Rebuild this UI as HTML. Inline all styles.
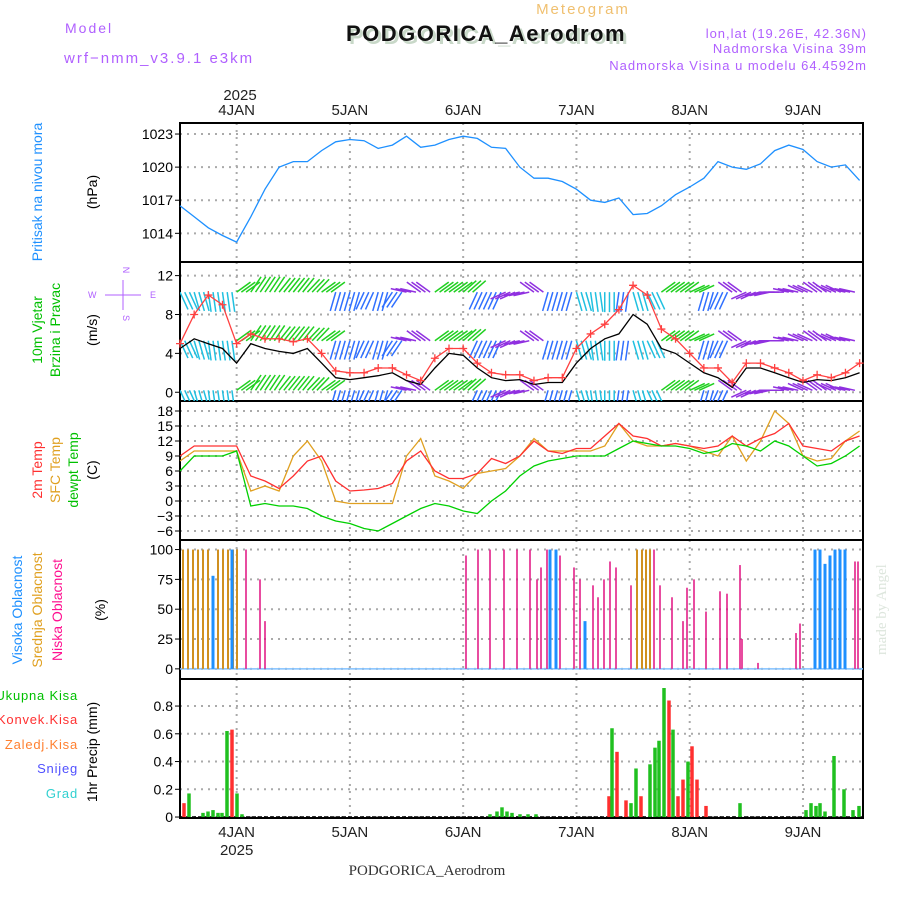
<!DOCTYPE html>
<html><head><meta charset="utf-8"><style>
html,body{margin:0;padding:0;background:#fff;width:900px;height:900px;overflow:hidden}
svg text{font-family:"Liberation Sans",sans-serif}
svg text.serif{font-family:"Liberation Serif",serif}
</style></head><body>
<svg id="c" width="900" height="900" xmlns="http://www.w3.org/2000/svg">
<text x="65" y="33" fill="#b060ff" font-size="14" letter-spacing="2">Model</text>
<text x="64" y="63" fill="#b060ff" font-size="15" letter-spacing="2">wrf−nmm_v3.9.1 e3km</text>
<text x="583" y="14" fill="#f0c070" font-size="15" letter-spacing="2" text-anchor="middle">Meteogram</text>
<text x="489" y="44" fill="#c8d8c8" font-size="22" font-weight="bold" text-anchor="middle" letter-spacing="1.5">PODGORICA_Aerodrom</text>
<text x="486" y="41" fill="#111" font-size="22" font-weight="bold" text-anchor="middle" letter-spacing="1.5">PODGORICA_Aerodrom</text>
<text x="867" y="38" fill="#b060ff" font-size="13" text-anchor="end" letter-spacing="1">lon,lat (19.26E, 42.36N)</text>
<text x="867" y="53" fill="#b060ff" font-size="13" text-anchor="end" letter-spacing="1">Nadmorska Visina 39m</text>
<text x="867" y="70" fill="#b060ff" font-size="13" text-anchor="end" letter-spacing="1">Nadmorska Visina u modelu 64.4592m</text>
<text x="240" y="100" font-size="15" fill="#222" text-anchor="middle">2025</text>
<g id="axes"></g>
<g id="plots"></g>
<text x="427" y="875" font-size="15" fill="#333" text-anchor="middle" class="serif">PODGORICA_Aerodrom</text>
<text x="0" y="0" font-size="15" fill="#dde6dd" transform="translate(886,655) rotate(-90)" class="serif">made by Angel</text>
<g font-size="14">
<text transform="translate(42,192) rotate(-90)" fill="#1e90ff" text-anchor="middle">Pritisak na nivou mora</text>
<text transform="translate(97,192) rotate(-90)" fill="#000" text-anchor="middle">(hPa)</text>
<text transform="translate(42,330) rotate(-90)" fill="#00c000" text-anchor="middle">10m Vjetar</text>
<text transform="translate(60,330) rotate(-90)" fill="#00c000" text-anchor="middle">Brzina i Pravac</text>
<text transform="translate(97,330) rotate(-90)" fill="#000" text-anchor="middle">(m/s)</text>
<text transform="translate(42,470) rotate(-90)" fill="#ff3030" text-anchor="middle">2m Temp</text>
<text transform="translate(60,470) rotate(-90)" fill="#e0a020" text-anchor="middle">SFC Temp</text>
<text transform="translate(78,470) rotate(-90)" fill="#00c000" text-anchor="middle">dewpt Temp</text>
<text transform="translate(97,470) rotate(-90)" fill="#000" text-anchor="middle">(C)</text>
<text transform="translate(22,610) rotate(-90)" fill="#1e90ff" text-anchor="middle">Visoka Oblacnost</text>
<text transform="translate(42,610) rotate(-90)" fill="#e0a020" text-anchor="middle">Srednja Oblacnost</text>
<text transform="translate(62,610) rotate(-90)" fill="#ff1090" text-anchor="middle">Niska Oblacnost</text>
<text transform="translate(105,610) rotate(-90)" fill="#000" text-anchor="middle">(%)</text>
</g>
<g font-size="13">
<text x="78" y="700" fill="#00c000" text-anchor="end" letter-spacing="0.8">Ukupna Kisa</text>
<text x="78" y="724" fill="#ff3030" text-anchor="end" letter-spacing="0.8">Konvek.Kisa</text>
<text x="78" y="749" fill="#ff8030" text-anchor="end" letter-spacing="0.8">Zaledj.Kisa</text>
<text x="78" y="773" fill="#5050ff" text-anchor="end" letter-spacing="0.8">Snijeg</text>
<text x="78" y="798" fill="#30d0d0" text-anchor="end" letter-spacing="0.8">Grad</text>
<text transform="translate(97,752) rotate(-90)" font-size="14" fill="#000" text-anchor="middle">1hr Precip (mm)</text>
</g>
<g font-size="9" fill="#b060ff">
<text x="123" y="270" text-anchor="middle" transform="rotate(90,123,270)">N</text>
<text x="88" y="298">W</text><text x="150" y="298">E</text>
<text x="123" y="318" text-anchor="middle" transform="rotate(90,123,318)">S</text>
<line x1="123" y1="280" x2="123" y2="310" stroke="#b060ff"/><line x1="105" y1="295" x2="141" y2="295" stroke="#b060ff"/>
</g>
</svg>
<script>
const days=['4JAN','5JAN','6JAN','7JAN','8JAN','9JAN'];
const dayVals=[4,5,6,7,8,9];
const t0=3.5, tEnd=9.53;
const pressure=[1016.5,1015.5,1014.5,1013.8,1013.2,1015.5,1018,1020,1020.5,1020.5,1021.5,1022.3,1022.5,1022.4,1021.7,1022,1022.8,1021.8,1022,1022.5,1022.8,1022.6,1021.8,1021.7,1020,1019,1019,1018.7,1018,1017,1016.8,1017.2,1015.7,1015.8,1016.5,1017.5,1018.2,1019,1020.5,1020,1019.8,1020.3,1021.5,1022,1021.6,1020.5,1020,1020.2,1018.8];
const windSpeed=[4.5,5.5,5,4.5,3,5,4.5,4.2,4,4.5,3,1.5,1.3,1.5,1.7,2,1.2,0.8,2.5,4,3.8,2.5,1.5,1.2,1.3,0.8,1,1,3,4.5,5.5,6,8,7,4.5,4,3,2,1.5,0.5,2.5,2.5,2,1.5,1,1.3,1.2,1.5,2];
const windGust=[5,8,10,9,5,6,5.5,5.5,5.2,5.5,4,2.2,2,2,2.5,2.5,1.8,1.2,3.5,4.5,4.5,3,2,1.8,1.8,1.2,1.5,1.5,4.5,6,7,8.5,11,10,6.5,5.5,4,2.5,2.5,1,3,3,2.5,2,1.2,1.8,1.5,2,3];
const windDir=[150,160,170,170,60,40,40,45,45,50,60,200,200,210,200,220,280,300,60,60,55,210,210,250,260,300,200,200,160,170,180,190,160,150,60,60,70,200,210,300,250,260,270,280,290,300,290,280,270];
const t2m=[9,11,11,11,11,5,4,2.5,5,8,9,4,2,2.2,2.5,3.5,8,10,6,4.5,4.5,5.5,8.5,7.5,9,12,10,9.5,10.5,10.5,13,15.5,13,12.5,11,11.5,11,10.5,11,13,11,12.5,13.5,15.5,11,10.5,10,12,13];
const tSfc=[8,10,10,10,10,2,3,2,9,12,8,0,-0.5,-0.5,-0.5,-0.5,9,12.5,5,4,2.5,5.5,6,6.5,9,12.5,10,10,10,10,11,15.5,12,11,11,11.5,11,10,9,13,8,12,18,15.5,9,8,8.5,12,14];
const tDew=[6,9,9,9,10,-1,-0.5,-1,-1,-1.5,-3,-4,-4.5,-5.5,-6,-4.5,-3,-1.5,-0.5,-1,-2,-2.5,0,2,5,7,8,8.5,9,9,9,10.5,12,11.5,11,11,10.5,9.5,10,11.5,11,10,12,11,9,7,7.5,9,11];
const midX=[183,188,193,198,203,208,218,223,228,233,237,637,642,646,650];
const midV=[100,100,100,100,100,100,100,100,100,100,100,100,100,100,100];
const highX=[213,232,550,556,585,815,820,825,830,835,840,845];
const highV=[78,100,100,100,40,100,100,88,95,100,100,100];
const lowX=[246,260,265,466,478,490,504,517,530,537,541,547,560,574,580,593,598,604,610,616,631,654,660,672,683,687,694,706,720,727,740,742,758,796,800,855,858];
const lowV=[100,75,40,95,100,100,100,100,100,75,85,100,95,85,75,70,60,75,90,85,70,100,70,60,40,68,75,48,65,63,87,25,5,30,38,90,90];
const precX=[189,203,208,213,218,222,227,237,242,490,497,502,507,512,520,528,536,612,631,636,650,655,659,664,673,688,740,806,811,816,820,825,834,844,853,859];
const precV=[0.17,0.03,0.04,0.05,0.03,0.03,0.62,0.17,0.02,0.02,0.04,0.07,0.04,0.03,0.02,0.02,0.02,0.64,0.1,0.35,0.38,0.5,0.55,0.93,0.63,0.4,0.1,0.05,0.1,0.08,0.1,0.04,0.44,0.2,0.05,0.08];
const convX=[184,232,609,617,626,641,669,678,683,692,697,706];
const convV=[0.1,0.63,0.15,0.47,0.12,0.15,0.84,0.15,0.27,0.51,0.27,0.08];

const NS='http://www.w3.org/2000/svg';
const X0=180,X1=863;
const xs=t=>X0+(t-t0)/(tEnd-t0)*(X1-X0);
const panels=[
 {name:'pressure',top:123,bot:262,min:1011.4,max:1024,ticks:[1014,1017,1020,1023]},
 {name:'wind',top:262,bot:401,min:-0.9,max:13.4,ticks:[0,4,8,12]},
 {name:'temp',top:401,bot:540,min:-7.8,max:20,ticks:[-6,-3,0,3,6,9,12,15,18]},
 {name:'cloud',top:540,bot:679,min:-8.5,max:108,ticks:[0,25,50,75,100]},
 {name:'precip',top:679,bot:818,min:-0.007,max:0.995,ticks:[0,0.2,0.4,0.6,0.8]}];
const ys=(p,v)=>p.bot-(v-p.min)/(p.max-p.min)*(p.bot-p.top);
const ax=document.getElementById('axes'), pl=document.getElementById('plots');
function mk(tag,at,par){const e=document.createElementNS(NS,tag);for(const k in at)e.setAttribute(k,at[k]);(par||pl).appendChild(e);return e;}
panels.forEach(p=>{
 const g=mk('g',{},ax);
 
 
 dayVals.forEach(d=>mk('line',{x1:xs(d),x2:xs(d),y1:p.top,y2:p.bot,stroke:'#aaa','stroke-dasharray':'2,5','stroke-width':2},g));
 p.ticks.forEach(v=>{const y=ys(p,v);
  mk('line',{x1:X0,x2:X1,y1:y,y2:y,stroke:'#aaa','stroke-dasharray':'2,5','stroke-width':2},g);
  mk('line',{x1:X0-5,x2:X0,y1:y,y2:y,stroke:'#000'},g);
  const tx=mk('text',{x:X0-7,y:y+5,'text-anchor':'end','font-size':14,fill:'#000'},g);
  tx.textContent=(v<0?'−'+(-v):String(v));
  
  
 });
 mk('rect',{x:X0,y:p.top,width:X1-X0,height:p.bot-p.top,fill:'none',stroke:'#000','stroke-width':2},g);
});
days.forEach((d,i)=>{const x=xs(dayVals[i]);
 const a=mk('text',{x:x,y:115,'text-anchor':'middle','font-size':15,fill:'#222'},ax);a.textContent=d;
 
 
 const b=mk('text',{x:x,y:837,'text-anchor':'middle','font-size':15,fill:'#222'},ax);b.textContent=d;
 
 
});
const by=mk('text',{x:xs(4),y:855,'text-anchor':'middle','font-size':15,fill:'#222'},ax);by.textContent='2025';


const tAt=i=>t0+i*0.125;
function line(p,arr,col,name){
 const d=arr.map((v,i)=>(i?'L':'M')+xs(tAt(i)).toFixed(1)+','+ys(p,v).toFixed(1)).join('');
 const e=mk('path',{d:d,fill:'none',stroke:col,'stroke-width':1.3});
 
 
}
const P=panels;
line(P[0],pressure,'#1e90ff','pressure-line');
const rows=[0.2,5.3,10.3];
const hue=d=>d<90?'#20d020':d<140?'#40e0a0':d<190?'#20c0e0':d<230?'#3070ff':'#9030e0';
const clip=mk('clipPath',{id:'wclip'});
mk('rect',{x:X0,y:P[1].top,width:X1-X0,height:P[1].bot-P[1].top},clip);
const wg=mk('g',{'clip-path':'url(#wclip)'});
for(let i=0;i<windDir.length-1;i++){
 for(let k=0;k<3;k++){
  const t=tAt(i)+k*0.0417;
  const dir=windDir[i];
  rows.forEach((r,j)=>{
   const x=xs(t),y=ys(P[1],r);
   const a=dir*Math.PI/180, L=20;
   const e=mk('line',{x1:x,y1:y,x2:x+Math.sin(a)*L*0.8,y2:y-Math.cos(a)*L,stroke:hue(dir),'stroke-width':1.5},wg);
   
   
  });
 }
}
line(P[1],windSpeed,'#000','wind-speed-line');
line(P[1],windGust,'#ff4040','wind-gust-line');
windGust.forEach((v,i)=>{const x=xs(tAt(i)),y=ys(P[1],v);
 const e=mk('path',{d:`M${x-4},${y}H${x+4}M${x},${y-4}V${y+4}`,stroke:'#ff4040','stroke-width':1.3});
 
 
});
line(P[2],tSfc,'#e0a020','sfc-temp-line');
line(P[2],t2m,'#ff3030','temp-2m-line');
line(P[2],tDew,'#00d000','dewpoint-line');
function bars(p,xa,va,col,w,name){
 xa.forEach((x,i)=>{const y=ys(p,va[i]),y0=ys(p,0);
  const e=mk('rect',{x:x-w/2,y:y,width:w,height:y0-y,fill:col});
  
  
 });
}
mk('line',{x1:X0,x2:X1,y1:ys(P[3],0),y2:ys(P[3],0),stroke:'#80c0ff','stroke-width':1.5});
bars(P[3],midX,midV,'#d09020',2,'mid-cloud-bar');
bars(P[3],highX,highV,'#1e90ff',3,'high-cloud-bar');
bars(P[3],lowX,lowV,'#e01080',1.5,'low-cloud-bar');
mk('line',{x1:X0,x2:X1,y1:ys(P[4],0),y2:ys(P[4],0),stroke:'#000','stroke-dasharray':'4,2','stroke-width':1.5});
bars(P[4],convX,convV,'#ff3030',3.5,'convective-precip-bar');
bars(P[4],precX,precV,'#20c020',3.5,'total-precip-bar');
</script>
</body></html>
